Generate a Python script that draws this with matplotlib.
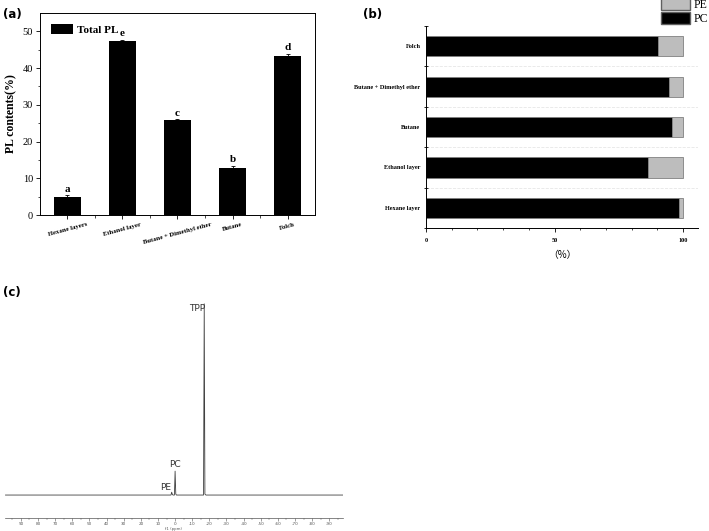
import matplotlib
matplotlib.use("Agg")
import matplotlib.pyplot as plt
from matplotlib.patches import Patch
import numpy as np

# ---- data ----
a_categories = ["Hexane layers", "Ethanol layer", "Butane + Dimethyl ether", "Butane", "Folch"]
a_values = [4.8, 47.3, 25.8, 12.8, 43.4]
a_errors = [0.6, 0.4, 0.3, 0.6, 0.5]
a_letters = ["a", "e", "c", "b", "d"]

b_categories = ["Hexane layer", "Ethanol layer", "Butane", "Butane + Dimethyl ether", "Folch"]
b_pc = [98.6, 86.4, 95.6, 94.7, 90.4]
b_pe = [1.4, 13.6, 4.4, 5.3, 9.6]

c_ppm = [99, 2.4, 2.0, 1.6, 1.2, 0.4, 0.0, -0.4, -0.8, -16.6, -17.0, -17.4, -18.0, -98]
c_int = [0, 0, 1.5, 0.3, 0, 0, 12.5, 0.5, 0, 0, 100, 0.5, 0, 0]
c_ticks = [90, 80, 70, 60, 50, 40, 30, 20, 10, 0, -10, -20, -30, -40, -50, -60, -70, -80, -90]

serif = "Liberation Serif"

fig = plt.figure(figsize=(7.09, 5.31), dpi=100)

# ---- panel (a) ----
ax = fig.add_axes([0.0564, 0.5951, 0.3879, 0.3804])
x = np.arange(len(a_categories))
ax.bar(x, a_values, width=0.5, color="black", label="Total PL")
ax.errorbar(x, a_values, yerr=a_errors, fmt="none", ecolor="black", elinewidth=0.6, capsize=1.5, capthick=0.6)
for xi, v, e, l in zip(x, a_values, a_errors, a_letters):
    ax.text(xi, v + e + 0.4, l, ha="center", va="bottom", family=serif, fontweight="bold", fontsize=8)
ax.set_xlim(-0.5, 4.5)
ax.set_ylim(0, 55)
ax.set_yticks([0, 10, 20, 30, 40, 50])
ax.set_yticks([5, 15, 25, 35, 45], minor=True)
ax.set_xticks(x)
ax.set_xticks([0.5, 1.5, 2.5, 3.5], minor=True)
ax.set_xticklabels(a_categories, rotation=15, family=serif, fontweight="bold", fontsize=4.8)
for t in ax.get_yticklabels():
    t.set_family(serif)
    t.set_fontsize(7.5)
ax.tick_params(axis="both", which="major", length=3, width=0.6, pad=2)
ax.tick_params(axis="both", which="minor", length=1.8, width=0.5)
ax.set_ylabel("PL contents(%)", family=serif, fontweight="bold", fontsize=8.5, labelpad=4)
for s in ax.spines.values():
    s.set_linewidth(0.7)
ax.legend(loc="upper left", frameon=False, prop={"family": serif, "weight": "bold", "size": 8},
          handlelength=2.0, handleheight=1.0, handletextpad=0.35, borderaxespad=0.6,
          bbox_to_anchor=(0.0, 1.0))

# ---- panel (b) ----
bx = fig.add_axes([0.6008, 0.5706, 0.3837, 0.3804])
yb = np.arange(len(b_categories))
bx.barh(yb, b_pc, height=0.5, color="black", edgecolor="#808080", linewidth=0.6, label="PC")
bx.barh(yb, b_pe, left=b_pc, height=0.5, color="#bdbdbd", edgecolor="#808080", linewidth=0.6, label="PE")
bx.set_xlim(0, 105.8)
bx.set_ylim(-0.5, 4.5)
bx.set_yticks(yb)
bx.set_yticklabels(b_categories, family=serif, fontweight="bold", fontsize=4.5)
bx.set_yticks([-0.5, 0.5, 1.5, 2.5, 3.5, 4.5], minor=True)
bx.tick_params(axis="y", which="major", length=0, pad=4)
bx.tick_params(axis="y", which="minor", length=2.5, width=0.6, direction="inout")
bx.set_xticks([0, 50, 100])
bx.set_xticks(np.arange(10, 100, 10), minor=True)
for t in bx.get_xticklabels():
    t.set_family(serif)
    t.set_fontweight("bold")
    t.set_fontsize(4.5)
bx.tick_params(axis="x", which="major", length=3, width=0.6, pad=4)
bx.tick_params(axis="x", which="minor", length=1.5, width=0.5)
for yy in [0.5, 1.5, 2.5, 3.5]:
    bx.axhline(yy, color="#e6e6e6", lw=0.6, ls="--", zorder=0)
bx.spines["top"].set_visible(False)
bx.spines["right"].set_visible(False)
bx.spines["left"].set_linewidth(0.7)
bx.spines["bottom"].set_linewidth(0.7)
bx.set_xlabel("（%）", family=["Noto Sans CJK SC", "DejaVu Sans"], fontsize=7, labelpad=5)
handles = [Patch(facecolor="#bdbdbd", edgecolor="#606060", label="PE"),
           Patch(facecolor="black", edgecolor="#606060", label="PC")]
fig.legend(handles=handles, loc="upper right", bbox_to_anchor=(1.005, 1.012), frameon=False,
           prop={"family": serif, "size": 8.5}, handlelength=2.4, handleheight=1.1,
           handletextpad=0.3, labelspacing=0.1, borderaxespad=0.0)

# ---- panel (c) ----
cx = fig.add_axes([0.00705, 0.0245, 0.4767, 0.4105])
cx.plot(c_ppm, c_int, color="#404040", lw=0.6)
cx.set_xlim(99.3, -98)
cx.set_ylim(-12, 102)
cx.set_xticks(c_ticks)
cx.set_xticks(np.arange(95, -98, -10), minor=True)
cx.set_xticklabels([str(t) for t in c_ticks], fontsize=3.0, color="#555555")
cx.tick_params(axis="x", which="major", length=2, width=0.4, color="#555555", pad=1.2)
cx.tick_params(axis="x", which="minor", length=1.2, width=0.3, color="#555555")
cx.set_yticks([])
for s in ["top", "right", "left"]:
    cx.spines[s].set_visible(False)
cx.spines["bottom"].set_linewidth(0.5)
cx.spines["bottom"].set_color("#555555")
cx.set_xlabel("f1 (ppm)", fontsize=2.8, color="#555555", labelpad=0.2)
cx.text(-17.6, 100, "TPP", ha="right", va="top", fontsize=6.5, color="#333333")
cx.text(0, 13.5, "PC", ha="center", va="bottom", fontsize=6.5, color="#333333")
cx.text(2.3, 1.8, "PE", ha="right", va="bottom", fontsize=6.5, color="#333333")

# ---- panel labels ----
fig.text(0.004, 0.985, "(a)", fontsize=8.5, fontweight="bold", va="top", ha="left")
fig.text(0.512, 0.985, "(b)", fontsize=8.5, fontweight="bold", va="top", ha="left")
fig.text(0.004, 0.462, "(c)", fontsize=8.5, fontweight="bold", va="top", ha="left")

fig.savefig("out.png", dpi=100)
